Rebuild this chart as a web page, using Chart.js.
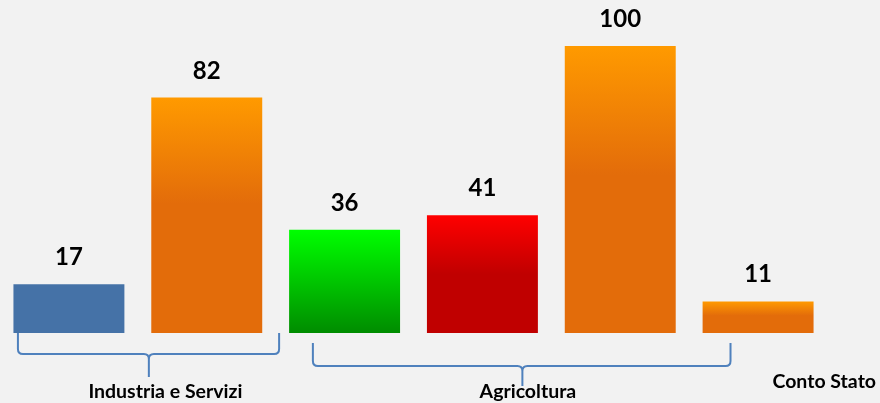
<!DOCTYPE html>
<html>
<head>
<meta charset="utf-8">
<script src="https://cdn.jsdelivr.net/npm/chart.js@4"></script>
<style>
  html, body { margin:0; padding:0; background:#f2f2f2; }
  #wrap { width:880px; height:403px; }
</style>
</head>
<body>
<div id="wrap"><canvas id="chart"></canvas></div>
<script>
// data
const categories = ['Industria A', 'Industria B', 'Agricoltura A', 'Agricoltura B', 'Agricoltura C', 'Conto Stato'];
const values = [17, 82, 36, 41, 100, 11];
// gradient stops per bar: [top colour, colour at stop, stop position]
const barColors = [
  ['#4572a7', '#4572a7', 1],
  ['#ff9a00', '#e36c0a', 0.45],
  ['#00ff00', '#008c00', 1],
  ['#ff0000', '#c00000', 0.5],
  ['#ff9a00', '#e36c0a', 0.45],
  ['#ff9a00', '#e36c0a', 0.45]
];
// group labels under the bars, brace span in category units
const groupLabels = ['Industria e Servizi', 'Agricoltura', 'Conto Stato'];
const braces = [
  { from: -0.37, to: 1.525, tip: 0.58, top: 333, mid: 354, bottom: 377, label: 0, labelAt: 0.70, labelY: 398 },
  { from: 1.77, to: 4.80, tip: 3.29, top: 343, mid: 366, bottom: 386, label: 1, labelAt: 3.33, labelY: 398 },
  { label: 2, labelAt: 5.48, labelY: 388 }
];

function barGradient(ctx) {
  const chart = ctx.chart;
  const i = ctx.dataIndex;
  const c = barColors[i];
  if (!chart.chartArea) return c[1];
  const y = chart.scales.y;
  const top = y.getPixelForValue(values[i]);
  const base = y.getPixelForValue(0);
  const g = chart.ctx.createLinearGradient(0, top, 0, base);
  g.addColorStop(0, c[0]);
  g.addColorStop(c[2], c[1]);
  g.addColorStop(1, c[1]);
  return g;
}

const valueLabels = {
  id: 'valueLabels',
  afterDatasetsDraw(chart) {
    const ctx = chart.ctx;
    const meta = chart.getDatasetMeta(0);
    ctx.save();
    ctx.fillStyle = '#000';
    ctx.font = 'bold 24px Lato';
    ctx.textAlign = 'center';
    ctx.textBaseline = 'alphabetic';
    meta.data.forEach((bar, i) => {
      ctx.fillText(values[i], bar.x, bar.y - 19);
    });
    ctx.restore();
  }
};

const groupBraces = {
  id: 'groupBraces',
  afterDraw(chart) {
    const ctx = chart.ctx;
    const x = chart.scales.x;
    const px = v => x.getPixelForValue(0) + v * (x.getPixelForValue(1) - x.getPixelForValue(0));
    ctx.save();
    ctx.strokeStyle = '#4f81bd';
    ctx.lineWidth = 2;
    braces.forEach(b => {
      if (b.from == null) return;
      const x1 = px(b.from), x2 = px(b.to), xt = px(b.tip);
      const r = 5;
      ctx.beginPath();
      ctx.moveTo(x1, b.top);
      ctx.lineTo(x1, b.mid - r);
      ctx.quadraticCurveTo(x1, b.mid, x1 + r, b.mid);
      ctx.lineTo(xt - r, b.mid);
      ctx.quadraticCurveTo(xt, b.mid, xt, b.mid + r);
      ctx.lineTo(xt, b.bottom);
      ctx.moveTo(xt, b.mid + r);
      ctx.quadraticCurveTo(xt, b.mid, xt + r, b.mid);
      ctx.lineTo(x2 - r, b.mid);
      ctx.quadraticCurveTo(x2, b.mid, x2, b.mid - r);
      ctx.lineTo(x2, b.top);
      ctx.stroke();
    });
    ctx.fillStyle = '#000';
    ctx.font = 'bold 19.5px Lato';
    ctx.textAlign = 'center';
    ctx.textBaseline = 'alphabetic';
    braces.forEach(b => {
      ctx.fillText(groupLabels[b.label], px(b.labelAt), b.labelY);
    });
    ctx.restore();
  }
};

new Chart(document.getElementById('chart'), {
  type: 'bar',
  data: {
    labels: categories,
    datasets: [{ data: values, backgroundColor: barGradient, categoryPercentage: 1, barPercentage: 0.805 }]
  },
  options: {
    responsive: true,
    maintainAspectRatio: false,
    animation: false,
    layout: { padding: { left: 0, right: 53, top: 0, bottom: 70 } },
    plugins: { legend: { display: false }, tooltip: { enabled: false } },
    scales: {
      x: { display: false },
      y: { display: false, min: 0, max: 116 }
    }
  },
  plugins: [valueLabels, groupBraces]
});
</script>
</body>
</html>
